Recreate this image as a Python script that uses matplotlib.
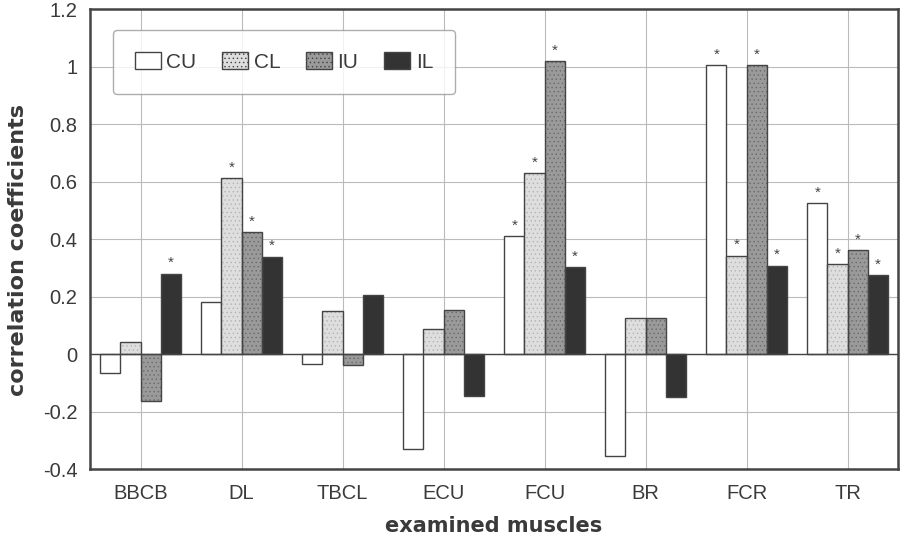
import matplotlib
matplotlib.use("Agg")
from matplotlib import pyplot as plt
import numpy as np

plt.rcParams['font.family'] = ['Liberation Sans', 'DejaVu Sans']
plt.rcParams['hatch.linewidth'] = 0.5

## Data ##
muscles = ["BBCB", "DL", "TBCL", "ECU", "FCU", "BR", "FCR", "TR"]
series = ["CU", "CL", "IU", "IL"]
cu = [-0.064, 0.18, -0.036, -0.33, 0.41, -0.355, 1.005, 0.525]
cl = [0.043, 0.613, 0.149, 0.086, 0.63, 0.124, 0.343, 0.314]
iu = [-0.162, 0.424, -0.038, 0.152, 1.018, 0.124, 1.006, 0.361]
il = [0.28, 0.339, 0.207, -0.147, 0.302, -0.15, 0.308, 0.274]
# significant (asterisk) flags, per series
sig_cu = [0, 0, 0, 0, 1, 0, 1, 1]
sig_cl = [0, 1, 0, 0, 1, 0, 1, 1]
sig_iu = [0, 1, 0, 0, 1, 0, 1, 1]
sig_il = [1, 1, 0, 0, 1, 0, 1, 1]

values = [cu, cl, iu, il]
sigs = [sig_cu, sig_cl, sig_iu, sig_il]
colors = ["#ffffff", "#dedede", "#9a9a9a", "#333333"]
hatch_cols = [None, "#b4b4b4", "#6a6a6a", None]

fig = plt.figure(figsize=(9, 5.38), dpi=100)
ax = fig.add_axes([0.1, 0.128, 0.898, 0.855])

x = np.arange(len(muscles))
width = 0.2
edge = "#444444"
for i in range(len(series)):
    pos = x + (i - 1.5) * width
    if hatch_cols[i]:
        # stipple texture first, outline drawn on top
        ax.bar(pos, values[i], width=width, color=colors[i], edgecolor=hatch_cols[i],
               hatch="....", linewidth=0, zorder=3)
        ax.bar(pos, values[i], width=width, fill=False, edgecolor=edge,
               linewidth=1.0, zorder=3.2)
        ax.bar([0], [0], width=0, color=colors[i], edgecolor=edge, hatch="....",
               linewidth=1.0, label=series[i])
    else:
        ax.bar(pos, values[i], width=width, color=colors[i], edgecolor=edge,
               linewidth=1.0, label=series[i], zorder=3)
    for j in range(len(muscles)):
        if sigs[i][j]:
            ax.text(pos[j], values[i][j] + 0.012, "*", ha="center", va="bottom",
                    fontsize=11, color="#444444", zorder=4)

ax.set_xlim(-0.5, len(muscles) - 0.5)
ax.set_ylim(-0.4, 1.2)
ax.set_yticks(np.arange(-0.4, 1.21, 0.2))
ax.set_yticklabels(["-0.4", "-0.2", "0", "0.2", "0.4", "0.6", "0.8", "1", "1.2"])
ax.set_xticks(x)
ax.set_xticklabels(muscles)
ax.tick_params(axis="both", length=0, labelsize=14.5, labelcolor="#3a3a3a")
ax.tick_params(axis="x", pad=11)
ax.tick_params(axis="y", pad=9)
ax.grid(True, color="#bbbbbb", linewidth=0.8, zorder=0)
ax.set_axisbelow(True)
ax.axhline(0, color=edge, linewidth=1.0, zorder=3.5)
for s in ax.spines.values():
    s.set_linewidth(1.8)
    s.set_color("#444444")

ax.set_xlabel("examined muscles", fontsize=15, fontweight="bold", color="#3a3a3a",
              family="DejaVu Sans", labelpad=9)
ax.set_ylabel("correlation coefficients", fontsize=16, fontweight="bold", color="#3a3a3a",
              family="DejaVu Sans")
ax.yaxis.set_label_coords(-0.077, 0.476)

leg = ax.legend(loc="upper left", bbox_to_anchor=(0.0285, 0.954), ncol=4, fontsize=15,
                frameon=True, fancybox=True, edgecolor="#999999", handlelength=1.25,
                handleheight=0.9, columnspacing=1.25, handletextpad=0.25,
                borderpad=1.05, borderaxespad=0)
leg.get_frame().set_linewidth(1.0)
for t in leg.get_texts():
    t.set_color("#3a3a3a")

fig.savefig("out.png", dpi=100)
